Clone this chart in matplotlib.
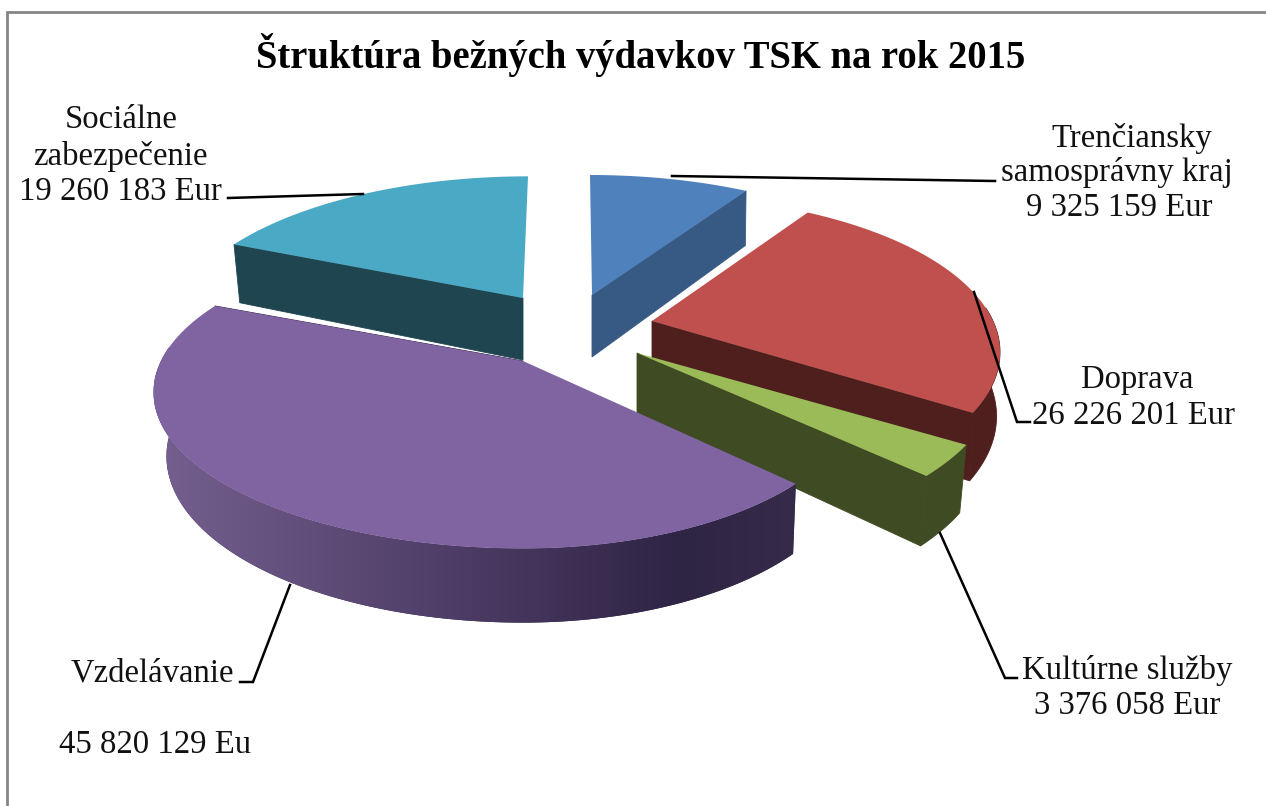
import numpy as np
import matplotlib
matplotlib.use('Agg')
import matplotlib.pyplot as plt
from matplotlib.colors import LinearSegmentedColormap
from matplotlib.patches import Polygon

plt.rcParams['font.family'] = ['Liberation Serif', 'DejaVu Serif']

# values in Eur, clockwise from the top
categories = ['Trenčiansky samosprávny kraj', 'Doprava', 'Kultúrne služby', 'Vzdelávanie', 'Sociálne zabezpečenie']
values = [9325159, 26226201, 3376058, 45820129, 19260183]
value_labels = ['9 325 159 Eur', '26 226 201 Eur', '3 376 058 Eur', '45 820 129 Eu', '19 260 183 Eur']
title = 'Štruktúra bežných výdavkov TSK na rok 2015'

# look of each slice
top_colors = ['#4f81bd', '#c0504d', '#9bbb59', '#8064a2', '#4aa9c4']
wall_colors = ['#375a85', '#4e1f1d', '#3f4b22', '#34284a', '#1f4550']
centers = [(592, 295), (652, 321), (637, 353), (523, 361), (523, 298)]
radius_right = [341, 341, 350, 330, 341]
radius_left = [341, 341, 350, 362, 342]
tilt_radius = [144, 150, 150, 150, 146]
lean = [-2, 0, 0, 0, 5]
wall_shrink = [0.995, 0.99, 0.98, 0.965, 0.98]
# which straight cut of the slice faces the viewer
cut_face = [-1, -1, -1, -1, 0]

# perspective of the pie
persp = 0.2
wall_h = 62

purple_wall = LinearSegmentedColormap.from_list(
    'purple_wall',
    [(0, '#75608f'), (0.45, '#4f3e68'), (0.82, '#2e2444'), (1, '#372b4b')],
)


def project(i, theta):
    cx, cy = centers[i]
    u = np.sin(theta)
    v = np.cos(theta)
    s = 1 / (1 + persp * v)
    r = np.where(u >= 0, radius_right[i], radius_left[i])
    return cx + r * u * s + lean[i] * v, cy - tilt_radius[i] * v * s, s


def drop(i, x, y, s):
    # bottom edge of the wall under a top edge point
    cx = centers[i][0]
    shrink = np.where(x >= cx, max(wall_shrink[i], 0.99 if i == 3 else 0), wall_shrink[i])
    return cx + (x - cx) * shrink, y + wall_h * s ** 0.8


fig = plt.figure(figsize=(12.66, 8.06), dpi=100)
ax = fig.add_axes([0, 0, 1, 1])
ax.axis('off')

fracs = np.array(values) / sum(values)
ends = np.cumsum(fracs) * 2 * np.pi
starts = ends - fracs * 2 * np.pi

# draw order: back slices first, purple last
for z, i in enumerate([0, 4, 1, 2, 3]):
    cx, cy = centers[i]
    th = np.linspace(starts[i], ends[i], 160)
    x, y, s = project(i, th)
    bx, by = drop(i, x, y, s)

    k = cut_face[i]
    face = [(cx, cy), (x[k], y[k]), (bx[k], by[k]), (cx, cy + wall_h)]
    ax.add_patch(Polygon(face, closed=True, fc=wall_colors[i], ec=wall_colors[i], lw=0.6, zorder=z + 2))

    # outer wall, only the part that faces the viewer
    front = np.cos(th) < 0.1
    if front.any():
        wall = list(zip(x[front], y[front])) + list(zip(bx[front][::-1], by[front][::-1]))
        edge = 'none' if i == 3 else wall_colors[i]
        patch = Polygon(wall, closed=True, fc=wall_colors[i], ec=edge, lw=0.6, zorder=z + 2)
        ax.add_patch(patch)
        if i == 3:
            # shading runs left to right along the purple wall
            grad = np.linspace(0, 1, 256).reshape(1, -1)
            img = ax.imshow(grad, cmap=purple_wall, aspect='auto', zorder=z + 2.1,
                            extent=[x.min(), x.max(), by.max(), y.min()])
            img.set_clip_path(patch)

    pts = [(cx, cy)] + list(zip(x, y))
    ax.add_patch(Polygon(pts, closed=True, fc=top_colors[i], ec='none', zorder=z + 2.2))

ax.set_xlim(0, 1266)
ax.set_ylim(806, 0)

# leader lines
leaders = [
    [(672, 176), (995, 181)],
    [(974, 292), (1017, 422), (1030, 422)],
    [(940, 533), (1005, 678), (1017, 678)],
    [(290, 585), (253, 682), (240, 682)],
    [(363, 194), (228, 198)],
]
for line in leaders:
    xs, ys = zip(*line)
    ax.plot(xs, ys, color='black', lw=1.8, solid_joinstyle='miter', zorder=10)

# chart frame, no right or bottom side in the picture
ax.plot([7, 7, 1266], [806, 12, 12], color='#868686', lw=2, solid_joinstyle='miter', zorder=10)

ax.text(641, 55, title, ha='center', va='center', fontsize=27.8, fontweight='bold', color='black')

fs = 23.6
label_font = dict(ha='center', va='center', fontsize=fs, color='#111111')
ax.text(1132, 138, 'Trenčiansky', **label_font)
ax.text(1117, 173, 'samosprávny kraj', **label_font)
ax.text(1119, 208, value_labels[0], **label_font)
ax.text(1137, 380, categories[1], **label_font)
ax.text(1133, 416, value_labels[1], **label_font)
ax.text(1127, 671, categories[2], **label_font)
ax.text(1127, 706, value_labels[2], **label_font)
ax.text(152, 673, categories[3], **label_font)
ax.text(155, 745, value_labels[3], **label_font)
ax.text(121, 120, 'Sociálne', **label_font)
ax.text(120, 156, 'zabezpečenie', **label_font)
ax.text(120, 192, value_labels[4], **label_font)

fig.savefig('out.png', dpi=100)
